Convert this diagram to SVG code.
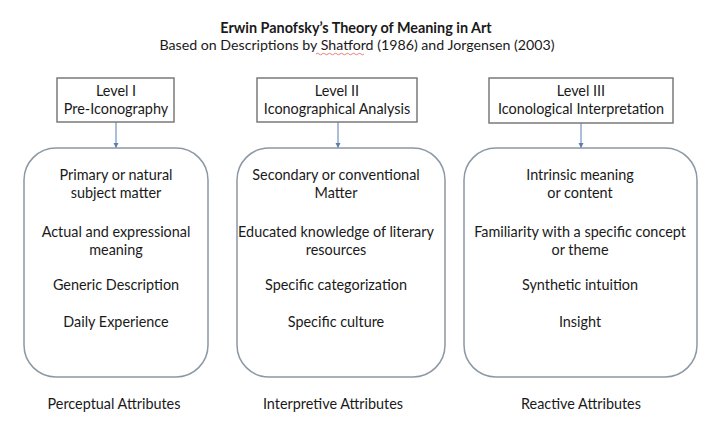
<svg xmlns="http://www.w3.org/2000/svg" width="720" height="430" viewBox="0 0 720 430">
<style>
text{font-family:Lato,"Open Sans","Liberation Sans",sans-serif;font-size:14.4px;fill:#1a1a1a;text-anchor:middle}
.t{font-weight:bold}
.s{font-size:14.2px}
.hdr{fill:#fff;stroke:#7a7a7a;stroke-width:1.5}
.rb{fill:#fff;stroke:#8c98a4;stroke-width:1.5}
.c{stroke:#5b7fb0;stroke-width:1;fill:none}
</style>
<defs>
<marker id="ah" markerWidth="6" markerHeight="6" refX="5" refY="3" orient="auto" markerUnits="userSpaceOnUse">
<path d="M0,0.5 L5,3 L0,5.5 z" fill="#5b7fb0"/>
</marker>
</defs>
<rect width="720" height="430" fill="#fff"/>
<g id="title">
<text class="t" x="356" y="33">Erwin Panofsky’s Theory of Meaning in Art</text>
<text class="s" x="357" y="50">Based on Descriptions by Shatford (1986) and Jorgensen (2003)</text>
<path d="M316,54 q1.5,-1.5 3,0 t3,0 t3,0 t3,0 t3,0 t3,0 t3,0 t3,0 t3,0 t3,0 t3,0 t3,0 t3,0 t3,0 t3,0 t3,0" fill="none" stroke="#e06060" stroke-width="0.8"/>
</g>
<g id="connectors">
<line class="c" x1="116" y1="122" x2="116" y2="148" marker-end="url(#ah)"/>
<line class="c" x1="338" y1="122" x2="338" y2="148" marker-end="url(#ah)"/>
<line class="c" x1="581" y1="123" x2="581" y2="148" marker-end="url(#ah)"/>
</g>
<g id="level1">
<rect class="hdr" x="57" y="78" width="117" height="44"/>
<text x="116" y="96">Level I</text>
<text x="116" y="114">Pre-Iconography</text>
</g>
<g id="level2">
<rect class="hdr" x="257" y="78" width="160" height="44"/>
<text x="337" y="96">Level II</text>
<text x="337" y="114">Iconographical Analysis</text>
</g>
<g id="level3">
<rect class="hdr" x="489" y="78" width="184" height="45"/>
<text x="581" y="96">Level III</text>
<text x="581" y="114">Iconological Interpretation</text>
</g>
<g id="box1">
<rect class="rb" x="24" y="148" width="184" height="229" rx="32" ry="32"/>
<text x="116" y="180">Primary or natural</text>
<text x="116" y="198">subject matter</text>
<text x="116" y="237">Actual and expressional</text>
<text x="116" y="255">meaning</text>
<text x="116" y="290">Generic Description</text>
<text x="116" y="327">Daily Experience</text>
</g>
<g id="box2">
<rect class="rb" x="237" y="148" width="208" height="229" rx="32" ry="32"/>
<text x="336" y="180">Secondary or conventional</text>
<text x="336" y="198">Matter</text>
<text x="336" y="237">Educated knowledge of literary</text>
<text x="336" y="255">resources</text>
<text x="336" y="290">Specific categorization</text>
<text x="336" y="327">Specific culture</text>
</g>
<g id="box3">
<rect class="rb" x="464" y="148" width="233" height="229" rx="32" ry="32"/>
<text x="580" y="180">Intrinsic meaning</text>
<text x="580" y="198">or content</text>
<text x="580" y="237">Familiarity with a specific concept</text>
<text x="580" y="255">or theme</text>
<text x="580" y="290">Synthetic intuition</text>
<text x="580" y="327">Insight</text>
</g>
<g id="labels">
<text x="114" y="409">Perceptual Attributes</text>
<text x="333" y="409">Interpretive Attributes</text>
<text x="581" y="409">Reactive Attributes</text>
</g>
</svg>
